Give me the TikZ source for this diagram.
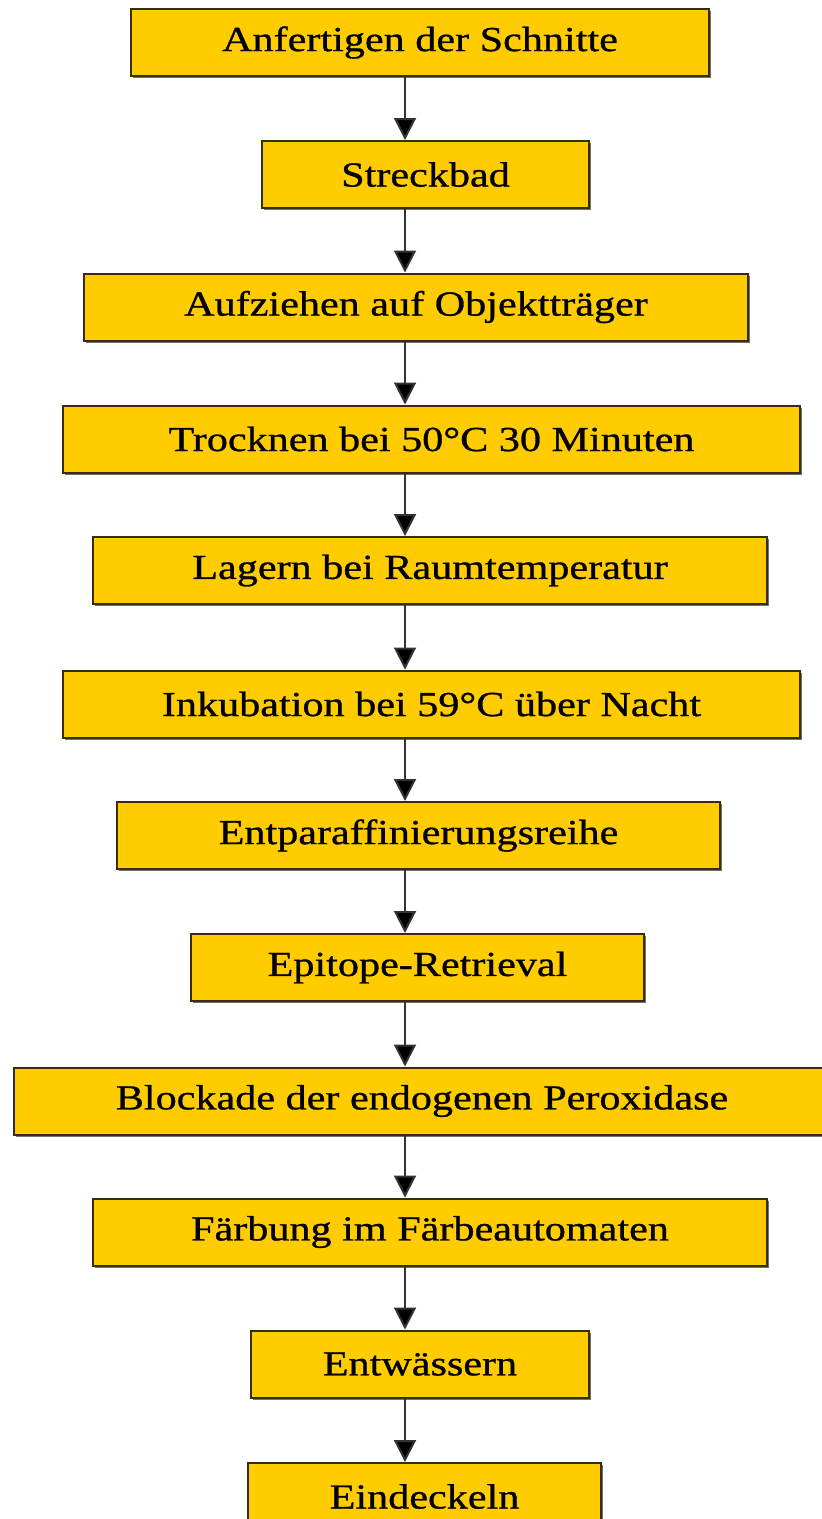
\documentclass[tikz,border=0pt]{standalone}
\usepackage{fontspec}
\setmainfont[FakeStretch=1.2,FakeBold=0.8]{Liberation Serif}
\usetikzlibrary{arrows.meta,shadows}
\definecolor{boxfill}{RGB}{255,204,0}
\definecolor{boxline}{RGB}{55,45,15}
\begin{document}
\begin{tikzpicture}
  [x=0.02cm,y=-0.02cm,
   every node/.style={rectangle,draw=boxline,line width=0.04cm,fill=boxfill,
     minimum height=1.34cm,inner sep=0pt,font=\fontsize{20}{24}\selectfont,
     drop shadow={shadow xshift=0.045cm,shadow yshift=-0.045cm,fill=black!55,opacity=1}},
   flow/.style={draw=black!80,line width=0.04cm,-{Triangle[length=0.44cm,width=0.44cm,fill=black]}}]
  \useasboundingbox (0,0) rectangle (822,1519);
  \coordinate (ax) at (405,0);
  \node[minimum width=11.56cm] (n1) at (420,42.5) {Anfertigen der Schnitte};
  \node[minimum width=6.54cm] (n2) at (425.5,174.5) {Streckbad};
  \node[minimum width=13.28cm] (n3) at (416,307) {Aufziehen auf Objektträger};
  \node[minimum width=14.74cm] (n4) at (431.5,439) {Trocknen bei 50°C 30 Minuten};
  \node[minimum width=13.48cm] (n5) at (430,570.5) {Lagern bei Raumtemperatur};
  \node[minimum width=14.74cm] (n6) at (431.5,704) {Inkubation bei 59°C über Nacht};
  \node[minimum width=12.06cm] (n7) at (418.5,835.5) {Entparaffinierungsreihe};
  \node[minimum width=9.06cm] (n8) at (417.5,967.5) {Epitope-Retrieval};
  \node[minimum width=16.32cm] (n9) at (422,1101) {Blockade der endogenen Peroxidase};
  \node[minimum width=13.48cm] (n10) at (430,1232) {Färbung im Färbeautomaten};
  \node[minimum width=6.76cm] (n11) at (420,1364) {Entwässern};
  \node[minimum width=7.06cm] (n12) at (424.5,1496.5) {Eindeckeln};

  \foreach \from/\to in {n1/n2,n2/n3,n3/n4,n4/n5,n5/n6,n6/n7,n7/n8,n8/n9,n9/n10,n10/n11,n11/n12}
    \draw[flow] (\from.south -| ax) -- (\to.north -| ax);
\end{tikzpicture}
\end{document}
